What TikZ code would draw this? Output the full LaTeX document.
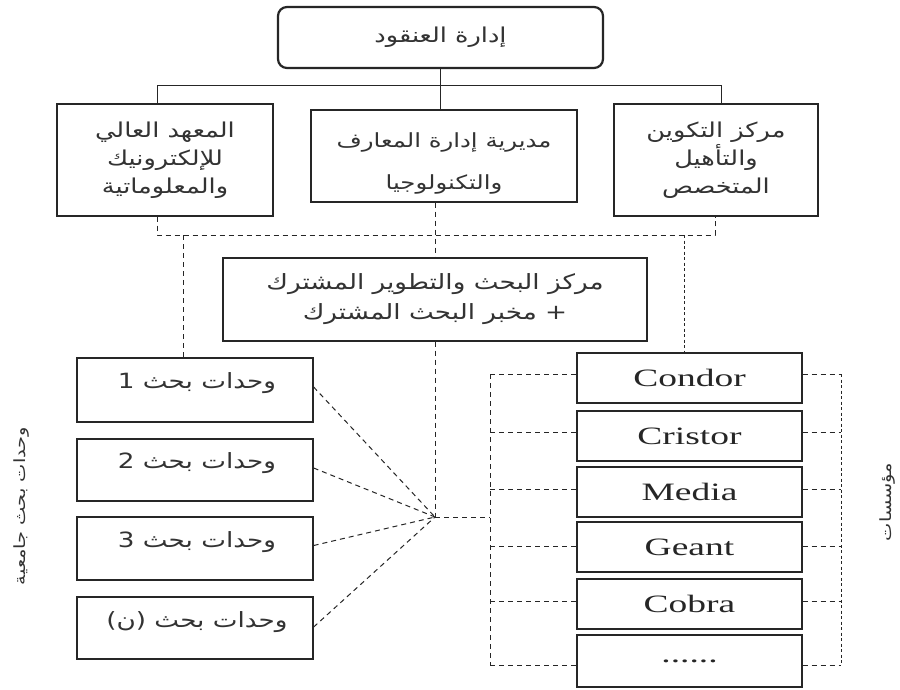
\documentclass[tikz,border=0pt]{standalone}
\usepackage{fontspec}
\TeXXeTstate=1
\newfontfamily\arfont[Script=Arabic,FakeStretch=1.25]{DejaVu Sans}
\newfontfamily\enfont[FakeStretch=1.5]{Liberation Serif}
\begin{document}
\begin{tikzpicture}[x=1pt,y=-1pt,
  box/.style={draw=black!85, line width=1.3pt, inner sep=0pt, rectangle},
  artext/.style={font=\arfont\fontsize{20.5}{28}\selectfont, align=center, text=black!80},
  unittext/.style={font=\arfont\fontsize{21}{24}\selectfont, text=black!80},
  entext/.style={font=\enfont\fontsize{25}{30}\selectfont, text=black!85},
  solidline/.style={draw=black!85, line width=1pt},
  dline/.style={draw=black!85, line width=1pt, dash pattern=on 5pt off 4pt},
  sline/.style={draw=black!85, line width=1pt, dash pattern=on 3pt off 2.5pt}]
\useasboundingbox (0,0) rectangle (900,689);
\fill[white] (0,0) rectangle (900,689);

% top level
\node[box, artext, minimum width=325pt, minimum height=61pt, rounded corners=9pt, line width=2.2pt] (top) at (440.5,37.5) {\beginR إدارة العنقود\endR};

% second level
\node[box, artext, minimum width=216pt, minimum height=112pt] (L1) at (165,160)
  {\beginR المعهد العالي\endR\\\beginR للإلكترونيك\endR\\\beginR والمعلوماتية\endR};
\node[box, minimum width=266pt, minimum height=92pt] (M1) at (444,156) {};
\node[artext, font=\arfont\fontsize{19.5}{28}\selectfont] (M1t) at (444,163)
  {\beginR مديرية إدارة المعارف\endR\\[14pt]\beginR والتكنولوجيا\endR};
\node[box, artext, minimum width=204pt, minimum height=112pt] (R1) at (716,160)
  {\beginR مركز التكوين\endR\\\beginR والتأهيل\endR\\\beginR المتخصص\endR};

% centre
\node[box, artext, minimum width=424pt, minimum height=83pt, font=\arfont\fontsize{21}{30}\selectfont] (C) at (435,299.5)
  {\beginR مركز البحث والتطوير المشترك\endR\\\beginR + مخبر البحث المشترك\endR};

% research units
\node[box, minimum width=236pt, minimum height=64pt] (U1) at (195,390) {};
\node[box, minimum width=236pt, minimum height=62pt] (U2) at (195,470) {};
\node[box, minimum width=236pt, minimum height=63pt] (U3) at (195,548.5) {};
\node[box, minimum width=236pt, minimum height=62pt] (U4) at (195,628) {};
\node[unittext] (U1t) at (197,383) {\beginR وحدات بحث 1\endR};
\node[unittext] (U2t) at (197,463) {\beginR وحدات بحث 2\endR};
\node[unittext] (U3t) at (197,542) {\beginR وحدات بحث 3\endR};
\node[unittext] (U4t) at (197,622) {\beginR وحدات بحث (ن)\endR};

% institutions
\node[box, entext, minimum width=225pt, minimum height=50pt] (B1) at (689.5,378) {Condor};
\node[box, entext, minimum width=225pt, minimum height=50pt] (B2) at (689.5,436) {Cristor};
\node[box, entext, minimum width=225pt, minimum height=50pt] (B3) at (689.5,492) {Media};
\node[box, entext, minimum width=225pt, minimum height=50pt] (B4) at (689.5,547) {Geant};
\node[box, entext, minimum width=225pt, minimum height=50pt] (B5) at (689.5,604) {Cobra};
\node[box, entext, minimum width=225pt, minimum height=52pt] (B6) at (689.5,661) {......};

% side labels
\node[unittext, rotate=90, font=\arfont\fontsize{15.5}{18}\selectfont] (labU) at (22,506) {\beginR وحدات بحث جامعية\endR};
\node[unittext, rotate=90, font=\arfont\fontsize{15.5}{18}\selectfont] (labB) at (887,502) {\beginR مؤسسات\endR};

% helper coordinates
\coordinate (bus1) at (440,85);
\coordinate (bus2) at (440,235);
\coordinate (hub) at (435,517);
\coordinate (lb) at (490,517);
\coordinate (rb) at (841,517);

% solid connectors
\draw[solidline] (top.south) -- (top.south |- M1.north);
\draw[solidline] ([xshift=-8pt]L1.north) -- ([xshift=-8pt]L1.north |- bus1)
  -- ([xshift=5pt]R1.north |- bus1) -- ([xshift=5pt]R1.north);

% dashed connectors
\draw[dline] ([xshift=-8pt]L1.south) -- ([xshift=-8pt]L1.south |- bus2)
  -- ([xshift=-1pt]R1.south |- bus2) -- ([xshift=-1pt]R1.south);
\draw[dline] (C.north |- M1.south) -- (C.north);
\draw[dline] ([xshift=-12pt]U1.north |- bus2) -- ([xshift=-12pt]U1.north);
\draw[sline] ([xshift=-5pt]B1.north |- bus2) -- ([xshift=-5pt]B1.north);

\draw[dline] (C.south) -- (hub);
\draw[dline] ([yshift=3pt]U1.east) -- (hub);
\draw[dline] ([yshift=2pt]U2.east) -- (hub);
\draw[dline] ([yshift=3pt]U3.east) -- (hub);
\draw[dline] ([yshift=1pt]U4.east) -- (hub);
\draw[dline] (hub) -- (lb);

% brackets around institutions
\draw[dline] ([yshift=4pt]B1.west -| lb) -- ([yshift=-4pt]B6.west -| lb);
\draw[sline] ([yshift=4pt]B1.east -| rb) -- ([yshift=-4pt]B6.east -| rb);
\foreach \b/\s in {B1/4pt,B2/4pt,B3/3pt,B4/1pt,B5/3pt,B6/-4pt}{
  \draw[dline] ([yshift=\s]\b.west -| lb) -- ([yshift=\s]\b.west);
  \draw[dline] ([yshift=\s]\b.east) -- ([yshift=\s]\b.east -| rb);
}
\end{tikzpicture}
\end{document}
